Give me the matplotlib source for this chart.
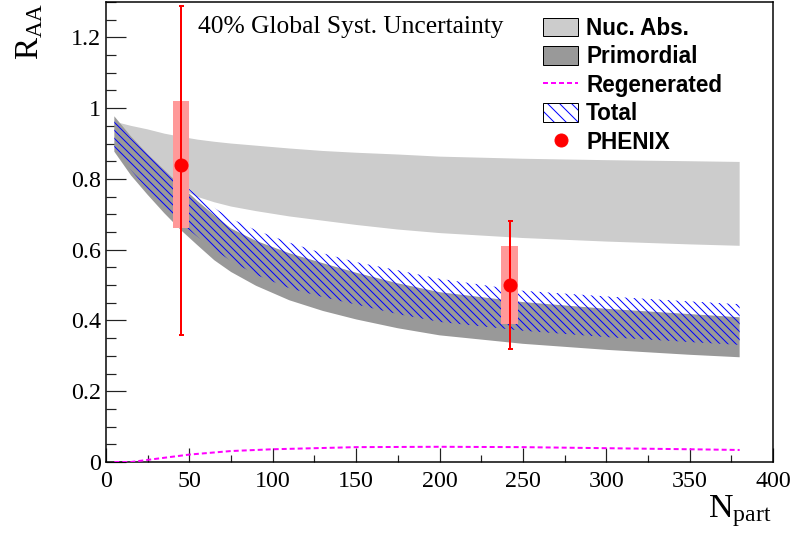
import matplotlib
matplotlib.use('Agg')
import matplotlib.pyplot as plt
from matplotlib.patches import Patch
from matplotlib.lines import Line2D
from matplotlib.ticker import MultipleLocator

plt.rcParams['mathtext.fontset'] = 'custom'
plt.rcParams['mathtext.rm'] = 'Liberation Serif'
plt.rcParams['mathtext.it'] = 'Liberation Serif:italic'
plt.rcParams['hatch.linewidth'] = 1.0

# ---------------- data ----------------
npart = [5, 15, 25, 35, 45, 55, 65, 75, 90, 110, 130, 150, 175, 200, 250, 300, 350, 380]
nuc_hi = [0.962, 0.950, 0.940, 0.928, 0.919, 0.911, 0.905, 0.900, 0.894, 0.886, 0.879, 0.874,
          0.869, 0.863, 0.857, 0.853, 0.850, 0.848]
nuc_lo = [0.945, 0.900, 0.860, 0.812, 0.772, 0.749, 0.734, 0.722, 0.709, 0.694, 0.682, 0.670,
          0.657, 0.647, 0.633, 0.623, 0.615, 0.611]
prim_hi = [0.977, 0.920, 0.870, 0.825, 0.780, 0.737, 0.697, 0.660, 0.625, 0.590, 0.562, 0.535,
           0.505, 0.480, 0.452, 0.433, 0.418, 0.409]
prim_lo = [0.877, 0.810, 0.755, 0.703, 0.655, 0.612, 0.570, 0.537, 0.498, 0.457, 0.427, 0.403,
           0.378, 0.358, 0.334, 0.317, 0.303, 0.296]
tot_hi = [0.966, 0.915, 0.870, 0.830, 0.790, 0.752, 0.718, 0.688, 0.655, 0.620, 0.590, 0.565,
          0.542, 0.518, 0.484, 0.468, 0.454, 0.446]
tot_lo = [0.888, 0.825, 0.770, 0.720, 0.675, 0.636, 0.600, 0.568, 0.529, 0.491, 0.466, 0.445,
          0.418, 0.396, 0.371, 0.353, 0.339, 0.331]

regen_n = [5, 15, 25, 50, 75, 100, 150, 200, 250, 300, 350, 380]
regen = [0.0, 0.0, 0.006, 0.021, 0.031, 0.036, 0.042, 0.043, 0.042, 0.039, 0.036, 0.034]

phx_n = [45, 242]
phx_r = [0.84, 0.50]
phx_stat_lo = [0.36, 0.32]
phx_stat_hi = [1.29, 0.68]
phx_syst_lo = [0.66, 0.39]
phx_syst_hi = [1.02, 0.61]
syst_halfwidth = 5

xticks = [0, 50, 100, 150, 200, 250, 300, 350, 400]
yticks = [0, 0.2, 0.4, 0.6, 0.8, 1.0, 1.2]
ytick_labels = ['0', '0.2', '0.4', '0.6', '0.8', '1', '1.2']

# ---------------- figure ----------------
W, H = 793, 537
DPI = 72
fig = plt.figure(figsize=(W / DPI, H / DPI), dpi=DPI)
ax = fig.add_axes([106 / W, (H - 462) / H, (773 - 106) / W, (462 - 2) / H])

ax.fill_between(npart, nuc_lo, nuc_hi, facecolor='#cccccc', edgecolor='none', linewidth=0, zorder=1)
ax.fill_between(npart, prim_lo, prim_hi, facecolor='#999999', edgecolor='none', linewidth=0, zorder=2)
ax.fill_between(npart, tot_lo, tot_hi, facecolor='none', edgecolor='blue', hatch='\\\\\\', linewidth=0, zorder=3)
ax.plot(regen_n, regen, color='#ff00ff', lw=2, dashes=(2.5, 1.5), zorder=4)

for n, lo, hi in zip(phx_n, phx_syst_lo, phx_syst_hi):
    ax.bar(n, hi - lo, bottom=lo, width=2 * syst_halfwidth, color='#ff9999', linewidth=0, zorder=5)

yerr = [[r - lo for r, lo in zip(phx_r, phx_stat_lo)], [hi - r for r, hi in zip(phx_r, phx_stat_hi)]]
ax.errorbar(phx_n, phx_r, yerr=yerr, fmt='o', color='red', ms=13, elinewidth=2,
            capsize=2.5, capthick=2, zorder=6)

ax.set_xlim(0, 400)
ax.set_ylim(0, 1.3)
ax.set_xticks(xticks)
ax.set_xticklabels([str(v) for v in xticks])
ax.set_yticks(yticks)
ax.set_yticklabels(ytick_labels)
ax.xaxis.set_minor_locator(MultipleLocator(25))
ax.yaxis.set_minor_locator(MultipleLocator(0.05))
ax.tick_params(axis='both', which='both', direction='in', top=False, right=False, width=1.2, color='#222222')
ax.tick_params(axis='y', which='major', length=20, pad=5)
ax.tick_params(axis='y', which='minor', length=10)
ax.tick_params(axis='x', which='major', length=14, pad=9)
ax.tick_params(axis='x', which='minor', length=7)
for lab in ax.get_xticklabels() + ax.get_yticklabels():
    lab.set_fontfamily('Liberation Serif')
    lab.set_fontsize(24)
for sp in ax.spines.values():
    sp.set_linewidth(1.5)

fig.text(198 / W, 1 - 33.5 / H, '40% Global Syst. Uncertainty', fontsize=25.5,
         family='Liberation Serif', va='baseline', ha='left')

fig.text(12 / W, 1 - 2 / H, r'$\mathrm{R}_{\mathrm{AA}}$', fontsize=33, rotation=90,
         ha='left', va='top')
fig.text(772 / W, 1 - 517 / H, r'$\mathrm{N}_{\mathrm{part}}$', fontsize=34,
         ha='right', va='baseline')

handles = [
    Patch(facecolor='#cccccc', edgecolor='black', linewidth=1),
    Patch(facecolor='#999999', edgecolor='black', linewidth=1),
    Line2D([], [], color='#ff00ff', lw=2, dashes=(2.5, 1.5)),
    (Patch(facecolor='white', edgecolor='blue', hatch='\\\\', linewidth=0),
     Patch(facecolor='none', edgecolor='black', linewidth=1)),
    Line2D([], [], color='red', marker='o', ms=13, lw=0),
]
labels = ['Nuc. Abs.', 'Primordial', 'Regenerated', 'Total', 'PHENIX']
leg = ax.legend(handles, labels, loc='upper left', bbox_to_anchor=(543 / W, 1 - 17 / H),
                bbox_transform=fig.transFigure, frameon=False, borderpad=0, borderaxespad=0,
                prop={'family': 'Liberation Sans', 'weight': 'bold', 'size': 22.5},
                handlelength=35 / 22.5, handleheight=20 / 22.5, handletextpad=8 / 22.5,
                labelspacing=0.24)

fig.savefig('out.png', dpi=DPI)
